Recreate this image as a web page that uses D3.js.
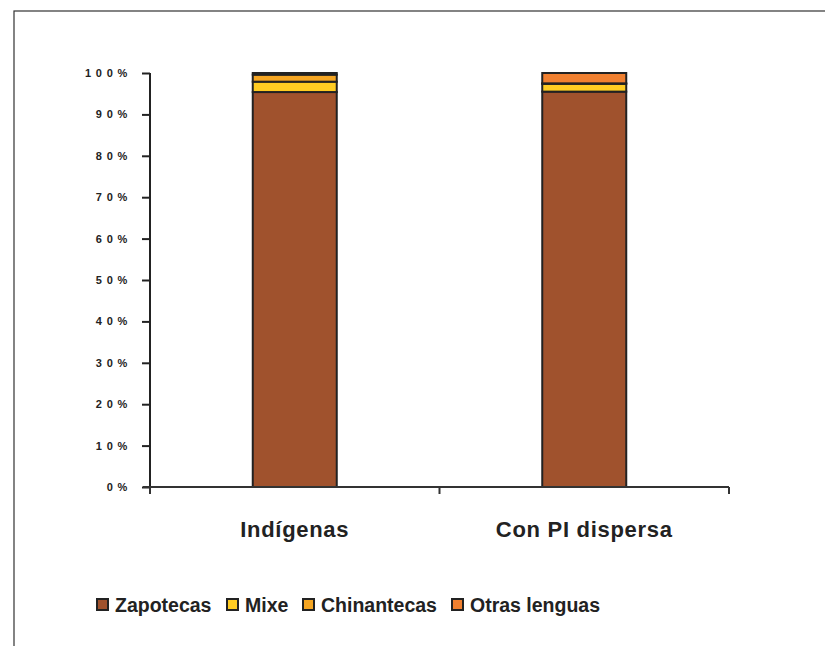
<!DOCTYPE html>
<html><head><meta charset="utf-8">
<script src="https://cdn.jsdelivr.net/npm/d3@7"></script>
<style>body{margin:0;background:#fff}svg{display:block}</style>
</head><body>
<script>
const categories = ["Indígenas", "Con PI dispersa"];
const seriesNames = ["Zapotecas", "Mixe", "Chinantecas", "Otras lenguas"];
const zapotecas = [95.4, 95.5];
const mixe = [2.5, 1.9];
const chinantecas = [1.7, 0.1];
const otras = [0.4, 2.5];
const yTicks = [0, 10, 20, 30, 40, 50, 60, 70, 80, 90, 100];
const colors = ["#A0522D", "#FFCC22", "#F5A623", "#F08030"];

const W = 825, H = 646;
const svg = d3.select("body").append("svg").attr("width", W).attr("height", H);
svg.append("rect").attr("x", 14).attr("y", 11).attr("width", W).attr("height", H)
  .attr("fill", "#fff").attr("stroke", "#333").attr("stroke-width", 1.2);

const x0 = 150, x1 = 729, yTop = 73, yBot = 487;
const y = d3.scaleLinear().domain([0, 100]).range([yBot, yTop]);
const x = d3.scaleBand().domain(categories).range([x0, x1]).paddingInner(0).paddingOuter(0);
const barW = 84;

const rows = categories.map((c, i) => ({cat: c, Zapotecas: zapotecas[i], Mixe: mixe[i], Chinantecas: chinantecas[i], "Otras lenguas": otras[i]}));
const stack = d3.stack().keys(seriesNames)(rows);

const g = svg.append("g");
stack.forEach((layer, li) => {
  g.selectAll(null).data(layer).enter().append("rect")
    .attr("x", d => x(d.data.cat) + x.bandwidth() / 2 - barW / 2)
    .attr("width", barW)
    .attr("y", d => y(d[1]))
    .attr("height", d => y(d[0]) - y(d[1]))
    .attr("fill", colors[li])
    .attr("stroke", "#222").attr("stroke-width", 2);
});

// y axis
const ya = svg.append("g").attr("transform", `translate(${x0},0)`)
  .call(d3.axisLeft(y).tickValues(yTicks).tickSize(8).tickPadding(14)
    .tickFormat(d => (String(d) + "%").split("").join(" ")));
ya.select(".domain").attr("stroke", "#222").attr("stroke-width", 2).attr("d", `M0,${yTop}V${yBot}`);
ya.selectAll(".tick line").attr("stroke", "#222").attr("stroke-width", 2);
ya.selectAll(".tick text").attr("font-family", "Liberation Sans, Arial, sans-serif")
  .attr("font-size", 11).attr("font-weight", "bold").attr("fill", "#222")
  .attr("letter-spacing", "0.8px");

// x axis
const xa = svg.append("g").attr("transform", `translate(0,${yBot})`);
xa.append("line").attr("x1", x0 - 7).attr("x2", x1).attr("y1", 0).attr("y2", 0)
  .attr("stroke", "#333").attr("stroke-width", 2);
const bounds = [x0, ...categories.map(c => x(c) + x.bandwidth())];
xa.selectAll(null).data(bounds).enter().append("line")
  .attr("x1", d => d).attr("x2", d => d).attr("y1", 0).attr("y2", 7)
  .attr("stroke", "#333").attr("stroke-width", 2);
xa.selectAll(null).data(categories).enter().append("text")
  .attr("x", d => x(d) + x.bandwidth() / 2).attr("y", 50)
  .attr("text-anchor", "middle")
  .attr("font-family", "Liberation Sans, Arial, sans-serif")
  .attr("font-size", 22).attr("font-weight", "bold").attr("fill", "#222")
  .attr("letter-spacing", "0.7px")
  .text(d => d);

// legend
const legX = [97, 227, 303, 452];
const leg = svg.append("g");
seriesNames.forEach((s, i) => {
  const lg = leg.append("g").attr("transform", `translate(${legX[i]},599)`);
  lg.append("rect").attr("x", 0).attr("y", 0).attr("width", 11).attr("height", 11)
    .attr("fill", colors[i]).attr("stroke", "#222").attr("stroke-width", 2);
  lg.append("text").attr("x", 18).attr("y", 13)
    .attr("font-family", "Liberation Sans, Arial, sans-serif")
    .attr("font-size", 19.5).attr("font-weight", "bold").attr("fill", "#222")
    .text(s);
});
</script>
</body></html>
